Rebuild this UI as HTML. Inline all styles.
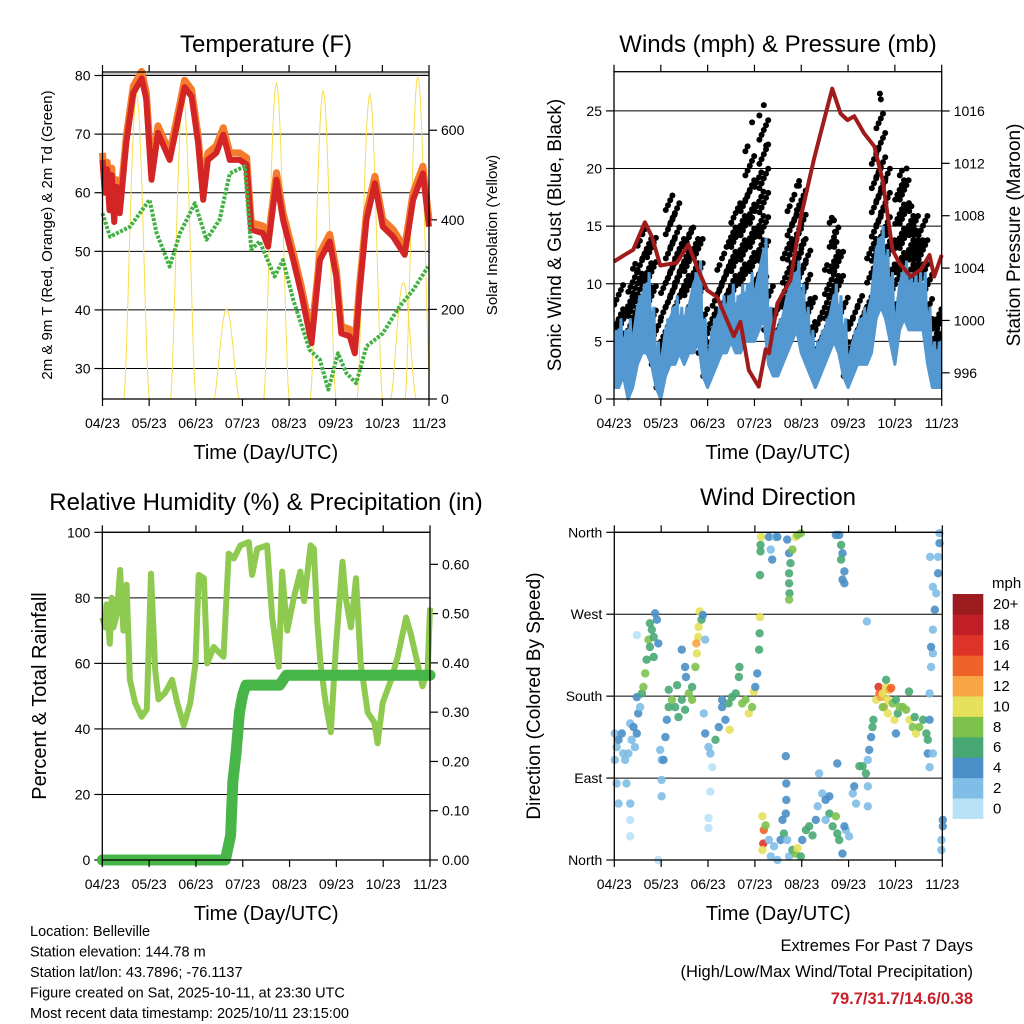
<!DOCTYPE html>
<html><head><meta charset="utf-8">
<style>
html,body{margin:0;padding:0;background:#fff;}
svg{display:block;font-family:"Liberation Sans",sans-serif;}
</style></head>
<body>
<svg id="fig" width="1024" height="1024" viewBox="0 0 1024 1024" xmlns="http://www.w3.org/2000/svg"></svg>
<script>
// ---------- DATA ----------
const monthLabels = ["04/23","05/23","06/23","07/23","08/23","09/23","10/23","11/23"];

// Temperature panel (t in months from 04/23)
const tempT = [0,0.05,0.1,0.15,0.2,0.25,0.3,0.37,0.51,0.66,0.84,0.94,1.05,1.19,1.44,1.59,1.76,1.91,2.05,2.16,2.26,2.44,2.59,2.73,2.94,3.09,3.19,3.44,3.55,3.73,3.87,4.09,4.26,4.48,4.66,4.87,5.01,5.12,5.3,5.41,5.51,5.66,5.84,6.01,6.23,6.48,6.66,6.87,7];
const temp2m = [65.6,60,64,57,63,55,61,56.5,68.5,77,79.5,75.9,62.2,70.2,65.6,71.3,78,76.4,68.5,58.8,65.6,66.8,69.9,65.6,65.6,64.8,53.7,53.1,50.8,62.2,55.4,48.5,42.9,34.3,48.5,51.7,45.7,36,35.5,32.6,42.9,55.4,61.6,54.2,52.5,49.4,58.8,63.3,54.2];
const dewT = [0,0.16,0.59,1.01,1.16,1.44,1.66,1.98,2.23,2.51,2.73,3.05,3.19,3.37,3.69,3.87,4.09,4.44,4.66,4.84,5.05,5.23,5.44,5.66,6.01,6.37,6.66,6.98];
const dew2m = [56.5,52.5,54.2,58.8,53.1,47.4,53.1,58.2,52,55.4,63.3,64.5,50.3,51.7,45.7,48.5,41.7,33.2,31.5,26.4,32.6,29.2,27.5,33.8,36,40.6,43.4,47.4];
const solarPeakT = [0.73,1.73,2.66,3.73,4.73,5.73,6.45,6.76];
const solarPeakW = [680,680,200,705,688,680,260,720];

// Winds panel (samples every 0.1 month)
const windLo = [1,1,2,0,1,3,4,4,3,1,0,2,3,3,4,3,4,4,5,2,1,2,3,4,4,5,4,4,5,5,5,6,7,3,2,2,3,4,5,6,4,3,2,1,2,3,4,5,4,2,1,2,3,3,3,4,7,8,7,5,3,6,7,6,6,6,6,3,1,1,1];
const windHi = [5,6,5,6,5,8,9,10,7,4,3,6,7,8,7,7,8,10,11,6,3,6,7,8,8,9,8,9,9,10,9,11,13,7,5,6,7,9,10,11,9,7,5,4,5,6,7,9,8,6,3,5,6,7,7,9,13,14,12,10,6,10,11,10,10,10,10,7,4,4,5];
const gustLo = [3,4,4,3,3,5,7,8,6,3,1,5,8,9,8,9,9,8,8,4,2,4,6,7,8,9,9,10,10,11,9,10,12,6,4,5,6,8,10,11,8,7,5,3,4,5,7,9,9,5,2,4,5,6,5,8,12,13,12,10,7,11,11,10,10,10,10,7,4,4,4];
const gustHi = [8,10,8,9,11,12,14,15,14,7,5,11,18,17,14,13,15,15,14,8,5,8,10,12,13,15,17,16,18,22,16,20,25,11,8,9,10,14,17,18,19,14,9,6,7,9,12,16,14,9,5,7,8,9,8,14,22,25,20,15,11,19,20,16,17,15,16,11,7,8,7];
const gustOutT = [2.95,3.2,3.25,3.95,4.7,4.72,5.68,5.7,6.25,6.3];
const gustOutV = [24,25.5,22,18.5,15.5,14.5,26.5,26,20,17];
const presT = [0,0.27,0.41,0.66,0.81,0.99,1.34,1.59,1.77,1.99,2.2,2.56,2.7,2.88,3.09,3.24,3.31,3.49,3.77,3.99,4.27,4.45,4.66,4.84,4.99,5.13,5.34,5.56,5.74,5.95,6.09,6.34,6.56,6.74,6.84,7];
const presMb = [1004.5,1005.1,1005.4,1007.5,1006.4,1004.2,1004.4,1005.8,1004.1,1002.3,1001.8,998.8,999.9,996.2,994.95,997.8,997.5,1001.3,1003.1,1007.9,1012.3,1014.8,1017.7,1015.8,1015.3,1015.6,1014.3,1013.3,1010.7,1005.4,1004.4,1003.35,1003.9,1005,1003.35,1005];

// RH / precip
const rhT = [0,0.06,0.09,0.16,0.2,0.24,0.31,0.38,0.45,0.52,0.59,0.7,0.84,0.95,1.04,1.13,1.2,1.34,1.49,1.6,1.74,1.88,1.99,2.06,2.17,2.24,2.38,2.59,2.7,2.81,2.95,3.13,3.2,3.31,3.52,3.63,3.77,3.84,3.95,4.09,4.23,4.31,4.45,4.52,4.59,4.66,4.77,4.88,4.99,5.13,5.2,5.31,5.42,5.52,5.67,5.81,5.88,5.99,6.17,6.31,6.49,6.59,6.7,6.84,6.95,7];
const rhPct = [74,71,78,66,80,71,75,88.5,70,84,55,48,43.7,46,87.4,58,49,51,55,48,41,48,60,87,86,60,65,62,93.5,92,96,97,87,95,96,74,59,88,70,80,88,79,96,95,73,60,48,39,65,91,80,71,86,60,45,42,35.6,48,55,62,74,69,62,53,58,77];
const precipT = [0,2.63,2.74,2.79,2.86,2.93,3.0,3.07,3.79,3.93,7];
const precipIn = [0,0,0.05,0.16,0.22,0.30,0.335,0.355,0.355,0.375,0.375];

// Wind direction
const dirT = [0.01,0.05,0.09,0.16,0.19,0.23,0.30,0.34,0.37,0.41,0.44,0.01,0.05,0.09,0.26,0.34,0.34,0.34,0.48,0.51,0.55,0.48,0.59,0.62,0.66,0.69,0.73,0.76,0.80,0.84,0.87,0.91,0.76,0.84,0.94,0.48,
0.98,1.01,1.09,1.12,1.16,1.23,1.30,1.37,1.44,1.51,1.59,1.66,1.16,1.34,1.44,1.51,1.66,1.73,1.76,1.79,1.80,1.75,1.82,1.86,1.89,1.94,1.01,1.01,1.05,1.53,0.94,
1.94,2.01,2.05,2.09,2.05,2.01,2.01,2.16,2.23,2.30,2.37,2.44,2.51,2.59,2.66,2.67,2.73,2.80,2.87,2.94,2.98,3.01,3.05,3.09,3.10,3.11,3.11,3.12,3.12,3.13,2.46,1.91,2.30,
3.30,3.34,3.37,3.44,3.48,3.69,3.73,3.76,3.73,3.73,3.74,3.73,3.80,3.87,3.91,3.98,3.66,3.67,3.67,
4.73,4.80,4.84,4.87,4.84,4.91,4.87,4.91,
3.16,3.19,3.18,3.16,3.23,3.30,3.34,3.41,3.48,3.55,3.59,3.62,3.66,3.69,3.73,3.80,3.87,3.91,3.98,4.01,4.09,4.16,4.23,4.30,4.34,4.37,4.44,4.51,4.59,4.66,4.73,4.76,4.80,4.87,4.94,5.01,4.76,4.91,4.59,4.51,
5.09,5.12,5.16,5.23,5.30,5.37,5.41,5.41,5.41,5.44,5.48,5.51,5.53,5.39,
5.59,5.64,5.66,5.69,5.73,5.76,5.80,5.84,5.87,5.91,5.80,5.94,6.01,5.98,6.05,6.09,6.16,6.23,6.30,6.37,6.41,6.44,6.51,6.59,6.66,6.69,6.29,6.01,5.84,5.73,
6.69,6.73,6.73,6.73,6.76,6.80,6.76,6.80,6.84,6.87,6.91,6.91,6.94,6.94,6.80,7.01,7.01,6.98,6.98,6.80,6.74];
const dirDeg = [139,124,132,139,117,110,117,150,132,146,124,110,84,62,84,62,44,26,179,161,168,139,183,190,205,220,242,260,253,245,271,264,234,223,238,247,
121,110,135,154,168,176,168,157,176,165,183,190,187,192,231,212,176,212,227,245,256,238,273,264,269,242,88,70,110,201,0,
139,124,117,102,75,46,35,132,146,168,154,172,179,183,201,212,172,176,161,168,185,190,205,231,249,267,313,339,346,355,143,161,176,
355,341,330,355,355,352,337,326,315,304,293,286,341,355,357,359,114,84,66,
357,357,346,337,330,317,308,304,
48,33,18,11,38,22,4,15,0,22,44,29,51,22,4,11,7,13,4,22,33,37,27,44,59,95,73,66,51,37,48,29,22,7,33,26,106,37,70,44,
73,81,62,103,103,95,110,81,59,121,135,146,154,262,
176,190,183,179,183,168,190,176,187,189,198,172,176,154,161,168,168,165,154,146,157,139,146,154,139,132,185,139,161,168,
117,102,154,183,212,227,234,253,275,293,315,333,348,359,117,44,37,22,11,300,333];
const dirSpeed = [3,3,4,4,2,2,2,2,3,4,3,2,2,2,2,2,1,1,4,4,3,4,7,8,8,7,8,7,6,6,4,4,6,6,4,1,
2,3,4,4,6,8,7,6,6,6,8,7,6,6,4,4,8,9,10,10,10,12,10,7,4,3,2,2,4,4,1,
4,2,2,1,1,1,1,6,5,4,5,6,7,7,7,6,8,8,10,9,10,4,4,6,6,10,6,6,6,10,10,2,4,
4,2,4,3,4,4,4,6,6,6,6,8,8,10,8,8,4,4,4,
4,4,6,4,6,4,4,4,
10,14,16,10,8,3,3,2,3,4,4,6,4,2,2,7,8,10,7,4,6,7,6,4,2,2,3,4,6,6,8,6,6,4,2,2,4,4,4,3,
2,4,2,6,6,6,2,2,2,4,4,6,6,2,
10,16,14,12,10,12,10,10,12,14,7,8,6,10,7,8,8,8,10,8,6,10,8,7,6,6,7,4,10,8,
4,2,4,2,2,2,4,2,4,2,4,2,4,2,2,4,4,2,2,2,2];
const speedColors = ["#b9e2f7","#80bde7","#4a8fc7","#48a873","#7cc24c","#e6e05a","#f7a545","#f06328","#de3329","#c11f26","#9b1b1f"];
const speedLabels = ["0","2","4","6","8","10","12","14","16","18","20+"];

// ---------- HELPERS ----------
const NS = "http://www.w3.org/2000/svg";
const svg = document.getElementById("fig");
function el(tag, attrs, parent, text){
  const e = document.createElementNS(NS, tag);
  for (const k in attrs) e.setAttribute(k, attrs[k]);
  if (text !== undefined) e.textContent = text;
  (parent || svg).appendChild(e);
  return e;
}
function lin(d0,d1,r0,r1){ return v => r0 + (v-d0)/(d1-d0)*(r1-r0); }

function makeGroup(name){
  const g = el("g", {});
  
  
  return g;
}

function drawFrame(P, g){
  const xs = lin(0,7,P.L,P.R);
  for (let i=0;i<monthLabels.length;i++){
    const x = xs(i);
    el("line",{x1:x,y1:P.B,x2:x,y2:P.B+7,stroke:"#000","stroke-width":1.2},g);
    el("line",{x1:x,y1:P.T,x2:x,y2:P.T-7,stroke:"#000","stroke-width":1.2},g);
    const t = el("text",{x:x,y:P.B+29,"text-anchor":"middle","font-size":14},g,monthLabels[i]);
    
    
  }
  const xt = el("text",{x:(P.L+P.R)/2,y:P.B+60,"text-anchor":"middle","font-size":20},g,"Time (Day/UTC)");
  
  
}
function drawBorder(P,g){
  el("rect",{x:P.L,y:P.T,width:P.R-P.L,height:P.B-P.T,fill:"none",stroke:"#000","stroke-width":1.3},g);
}
function leftAxis(P,g,vals,labels,ys,grid){
  vals.forEach((v,i)=>{
    const y = ys(v);
    if (grid) el("line",{x1:P.L,y1:y,x2:P.R,y2:y,stroke:"#000","stroke-width":1},g);
    el("line",{x1:P.L-8,y1:y,x2:P.L,y2:y,stroke:"#000","stroke-width":1.2},g);
    const t = el("text",{x:P.L-12,y:y+5,"text-anchor":"end","font-size":14},g,labels[i]);
    
    
  });
}
function rightAxis(P,g,vals,labels,ys){
  vals.forEach((v,i)=>{
    const y = ys(v);
    el("line",{x1:P.R,y1:y,x2:P.R+8,y2:y,stroke:"#000","stroke-width":1.2},g);
    const t = el("text",{x:P.R+12,y:y+5,"text-anchor":"start","font-size":14},g,labels[i]);
    
    
  });
}
function vTitle(x,y,txt,size,g,name){
  const t = el("text",{x:0,y:0,transform:`translate(${x},${y}) rotate(-90)`,"text-anchor":"middle","font-size":size},g,txt);
  
  
}
function title(x,y,txt,g){
  const t = el("text",{x:x,y:y,"text-anchor":"middle","font-size":24},g,txt);
  
  
}
function path(xsArr, ysArr, xs, ys){
  return xsArr.map((t,i)=>(i?"L":"M")+xs(t).toFixed(1)+","+ys(ysArr[i]).toFixed(1)).join("");
}

// ---------- PANEL 1: Temperature ----------
(function(){
  const P = {L:102.5,R:429,T:72,B:399};
  const g = makeGroup("temperature-panel");
  const xs = lin(0,7,P.L,P.R), ys = lin(24.8,80.6,P.B,P.T), yr = lin(0,730,P.B,P.T);
  title(266,52,"Temperature (F)",g);
  leftAxis(P,g,[30,40,50,60,70,80],["30","40","50","60","70","80"],ys,true);
  el("line",{x1:P.L,y1:P.T+2,x2:P.R,y2:P.T+2,stroke:"#888","stroke-width":1},g);
  rightAxis(P,g,[0,200,400,600],["0","200","400","600"],yr);
  const cp = el("clipPath",{id:"c1"},g); el("rect",{x:P.L,y:P.T,width:P.R-P.L,height:P.B-P.T},cp);
  const sg = el("g",{"clip-path":"url(#c1)"},g);
  
  
  solarPeakT.forEach((c,i)=>{
    const w = 0.27, pts=[];
    for (let j=0;j<=24;j++){ const tt=c-w+2*w*j/24; pts.push(xs(tt).toFixed(1)+","+yr(solarPeakW[i]*Math.pow(Math.sin(Math.PI*j/24),1.5)).toFixed(1)); }
    const a = el("polyline",{points:pts.join(" "),fill:"none",stroke:"#f9dc4a","stroke-width":1},sg);
    
    
  });
  const o = el("path",{d:path(tempT,temp2m.map(v=>v+1.2),xs,ys),fill:"none",stroke:"#f47c2c","stroke-width":7,"stroke-linejoin":"round"},g);
  
  
  const r = el("path",{d:path(tempT,temp2m,xs,ys),fill:"none",stroke:"#d42526","stroke-width":6,"stroke-linejoin":"round"},g);
  
  
  const d = el("path",{d:path(dewT,dew2m,xs,ys),fill:"none",stroke:"#43b045","stroke-width":4,"stroke-dasharray":"3 1.5","stroke-linejoin":"round"},g);
  
  
  drawBorder(P,g); drawFrame(P,g);
  vTitle(52,235,"2m & 9m T (Red, Orange) & 2m Td (Green)",15,g,"y-axis-title");
  vTitle(497,235,"Solar Insolation (Yellow)",15,g,"right-y-axis-title");
})();

// ---------- PANEL 2: Winds & Pressure ----------
(function(){
  const P = {L:614,R:941.7,T:71.7,B:399};
  const g = makeGroup("winds-panel");
  const xs = lin(0,7,P.L,P.R), ys = lin(0,28.4,P.B,P.T), yp = lin(994,1019,P.B,P.T);
  title(778,52,"Winds (mph) & Pressure (mb)",g);
  leftAxis(P,g,[0,5,10,15,20,25],["0","5","10","15","20","25"],ys,true);
  rightAxis(P,g,[996,1000,1004,1008,1012,1016],["996","1000","1004","1008","1012","1016"],yp);
  const cp = el("clipPath",{id:"c2"},g); el("rect",{x:P.L,y:P.T,width:P.R-P.L,height:P.B-P.T+2},cp);
  const inner = el("g",{"clip-path":"url(#c2)"},g);
  const dg = el("g",{fill:"#000"},inner);
  
  
  gustLo.forEach((lo,k)=>{
    const t = k*0.1;
    let n=0;
    for (let v=lo; v<=gustHi[k]; v+=0.42, n++){
      el("circle",{cx:(xs(t)+((n%5)-2)*2.2).toFixed(1),cy:ys(v).toFixed(1),r:3},dg);
    }
  });
  gustOutT.forEach((t,i)=>{
    const c = el("circle",{cx:xs(t),cy:ys(gustOutV[i]),r:3},dg);
    
    
  });
  const wt = windLo.map((v,k)=>k*0.1);
  const top = wt.map((t,i)=>xs(t).toFixed(1)+","+ys(windHi[i]).toFixed(1));
  const bot = wt.map((t,i)=>xs(t).toFixed(1)+","+ys(windLo[i]).toFixed(1)).reverse();
  const b = el("polygon",{points:top.concat(bot).join(" "),fill:"#5398d0",stroke:"#5398d0","stroke-width":3,"stroke-linejoin":"round"},inner);
  
  
  const zz = [];
  wt.forEach((t,i)=>{ zz.push(xs(t).toFixed(1)+","+ys(windLo[i]).toFixed(1)); zz.push((xs(t)+2.3).toFixed(1)+","+ys(windHi[i]+1).toFixed(1)); });
  const z = el("polyline",{points:zz.join(" "),fill:"none",stroke:"#5398d0","stroke-width":3},inner);
  
  
  const p = el("path",{d:path(presT,presMb,xs,yp),fill:"none",stroke:"#a01c1c","stroke-width":4,"stroke-linejoin":"round"},g);
  
  
  drawBorder(P,g); drawFrame(P,g);
  vTitle(561,235,"Sonic Wind & Gust (Blue, Black)",19,g,"y-axis-title");
  vTitle(1020,235,"Station Pressure (Maroon)",19,g,"right-y-axis-title");
})();

// ---------- PANEL 3: RH & Precip ----------
(function(){
  const P = {L:102.3,R:430,T:532.3,B:860};
  const g = makeGroup("humidity-precip-panel");
  const xs = lin(0,7,P.L,P.R), ys = lin(0,100,P.B,P.T), yr = lin(0,0.665,P.B,P.T);
  title(266,510,"Relative Humidity (%) & Precipitation (in)",g);
  leftAxis(P,g,[0,20,40,60,80,100],["0","20","40","60","80","100"],ys,true);
  rightAxis(P,g,[0,0.1,0.2,0.3,0.4,0.5,0.6],["0.00","0.10","0.20","0.30","0.40","0.50","0.60"],yr);
  const rh = el("path",{d:path(rhT,rhPct,xs,ys),fill:"none",stroke:"#8fca50","stroke-width":6,"stroke-linejoin":"round"},g);
  
  
  const pr = el("path",{d:path(precipT,precipIn,xs,yr),fill:"none",stroke:"#48b548","stroke-width":11,"stroke-linejoin":"round","stroke-linecap":"round"},g);
  
  
  drawBorder(P,g); drawFrame(P,g);
  vTitle(46,696,"Percent & Total Rainfall",20,g,"y-axis-title");
})();

// ---------- PANEL 4: Wind Direction ----------
(function(){
  const P = {L:614.3,R:942.3,T:532.3,B:860};
  const g = makeGroup("wind-direction-panel");
  const xs = lin(0,7,P.L,P.R), ys = lin(0,360,P.B,P.T);
  title(778,505,"Wind Direction",g);
  leftAxis(P,g,[0,90,180,270,360],["North","East","South","West","North"],ys,true);
  const dg = el("g",{"fill-opacity":0.9},g);
  
  
  dirT.forEach((t,i)=>{
    const ci = Math.min(10,Math.floor(dirSpeed[i]/2));
    el("circle",{cx:xs(t).toFixed(1),cy:ys(dirDeg[i]).toFixed(1),r:4.2,fill:speedColors[ci]},dg);
  });
  drawBorder(P,g); drawFrame(P,g);
  vTitle(540,696,"Direction (Colored By Speed)",19,g,"y-axis-title");
  const cb = makeGroup("speed-colorbar");
  const mph = el("text",{x:992,y:588,"font-size":15},cb,"mph");
  
  
  const bh = (818.7-594)/11;
  speedColors.forEach((c,i)=>{
    const y = 818.7-(i+1)*bh;
    const r = el("rect",{x:952.7,y:y,width:30.6,height:bh+0.3,fill:c},cb);
    
    
    const t = el("text",{x:993,y:y+bh/2+5,"font-size":15},cb,speedLabels[i]);
    
    
  });
})();

// ---------- FOOTER ----------
(function(){
  const g = makeGroup("footer");
  const lines = ["Location: Belleville","Station elevation: 144.78 m","Station lat/lon: 43.7896; -76.1137","Figure created on Sat, 2025-10-11, at 23:30 UTC","Most recent data timestamp: 2025/10/11 23:15:00"];
  lines.forEach((s,i)=>{
    const t = el("text",{x:30,y:936+i*20.5,"font-size":14.5},g,s);
    
    
  });
  const a = el("text",{x:973,y:951,"text-anchor":"end","font-size":16.5},g,"Extremes For Past 7 Days");
  
  
  const b = el("text",{x:973,y:977,"text-anchor":"end","font-size":16.5},g,"(High/Low/Max Wind/Total Precipitation)");
  
  
  const c = el("text",{x:973,y:1004,"text-anchor":"end","font-size":16.5,"font-weight":"bold",fill:"#c8202a"},g,"79.7/31.7/14.6/0.38");
  
  
})();
</script>
</body></html>
